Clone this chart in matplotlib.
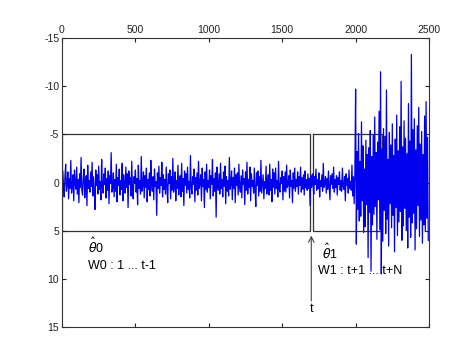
import numpy as np
import matplotlib
matplotlib.use("Agg")
import matplotlib.pyplot as plt

plt.rcParams['font.family'] = ['Liberation Sans', 'DejaVu Sans']
plt.rcParams['axes.unicode_minus'] = False

# sample spacing of the hand-read signal
step = 5

seg_quiet = [
    0.8,-1.2,0.3,1.5,-0.6,-1.9,0.9,0.2,-1.1,1.7,-0.4,0.6,-2.3,1.1,0.4,-0.8,1.9,-1.3,0.1,0.7,
    -1.6,1.2,-0.3,2.1,-0.9,0.5,-2.6,0.8,1.3,-0.5,-1.4,1.6,0.2,-0.7,2.4,-1.8,0.6,-0.2,1.0,-1.1,
    0.4,-2.1,1.4,-0.6,0.9,2.8,-1.3,0.3,-0.8,1.2,-1.7,0.7,-0.1,1.8,-2.4,0.5,1.1,-0.9,0.2,-1.5,
    1.6,-0.4,0.8,-1.2,2.2,-0.7,0.1,-3.1,1.0,0.6,-1.0,1.5,-0.3,0.9,-1.9,2.0,-0.5,0.3,-1.4,1.3,
    -0.2,0.7,-2.0,1.9,-0.8,0.4,1.1,-1.6,0.5,-0.9,2.6,-1.2,0.2,-0.5,1.4,-2.2,0.8,1.7,-0.6,0.1,
    -1.3,1.0,-0.4,2.3,-1.8,0.6,-0.2,1.2,-2.7,0.9,0.3,-1.1,1.6,-0.7,0.5,-1.5,2.0,-0.3,0.7,-1.0,
    1.4,-2.3,0.2,0.9,-0.6,1.8,-1.4,0.4,-0.1,3.4,-1.0,0.6,-1.7,1.1,-0.5,0.3,-2.1,1.5,-0.8,0.7,
    -0.3,1.2,-1.6,0.5,2.1,-0.9,0.1,-1.3,1.7,-0.6,0.8,-2.5,1.0,0.4,-1.1,1.9,-0.2,0.6,-1.8,1.3,
    0.2,-0.7,1.5,-2.0,0.9,-0.4,2.4,-1.2,0.3,-0.9,1.1,-1.6,0.7,-0.1,1.6,-2.8,0.5,1.2,-0.6,0.2,
    -1.4,2.0,-0.5,0.8,-1.0,1.3,-2.2,0.6,0.1,-0.8,1.9,-1.5,0.4,-0.3,2.6,-1.1,0.7,-1.9,1.0,-0.2,
    0.5,-1.3,1.7,-0.7,0.2,-2.4,1.4,-0.4,0.9,-1.0,3.6,-1.6,0.3,0.8,-0.9,1.2,-2.0,0.6,-0.3,1.5,
    -1.1,0.4,-1.7,2.2,-0.6,0.9,-0.2,1.4,-2.6,0.7,0.2,-1.2,1.8,-0.5,0.6,-1.5,2.1,-0.8,0.3,-1.0,
    1.3,-1.9,0.5,1.0,-0.7,1.6,-1.3,0.2,-0.4,2.3,-1.1,0.8,-2.1,1.2,-0.3,0.5,-1.6,1.9,-0.9,0.4,
    -0.2,1.1,-1.5,0.7,2.5,-1.0,0.3,-1.2,1.4,-0.6,0.9,-2.3,1.1,0.2,-0.8,1.7,-0.1,0.6,-1.7,1.2,
    0.3,-0.8,1.3,-1.9,0.8,-0.3,2.0,-1.4,0.5,-1.0,1.2,-1.5,0.6,-0.2,1.5,-2.2,0.7,1.0,-0.5,0.1,
    -1.2,1.8,-0.6,0.9,-1.1,1.0,-1.8,0.5,0.2,-0.7,1.6,-1.3,0.4,-0.2,2.1,-1.0,0.6,-1.5,0.9,-0.3,
    0.4,-1.1,1.2,-0.6,0.3,-1.6,1.0,-0.5,0.7,-0.8,1.3,-1.2,0.5,-0.3,0.8,-0.9,0.6,-0.4,2.4,-0.7,
]
seg_calm = [
    0.5,-0.9,0.3,1.2,-0.6,0.2,-1.4,0.8,-0.3,0.6,-1.0,1.5,-0.2,0.4,-0.8,0.9,-2.0,0.5,0.1,-0.6,
    1.1,-0.4,0.7,-1.2,0.3,1.8,-0.7,0.2,-0.9,0.6,-1.6,1.0,-0.3,0.5,-0.7,1.3,-0.5,0.2,-1.1,0.8,
    -0.2,0.9,-1.5,0.4,0.7,-0.6,1.9,-0.9,0.3,-0.4,1.1,-1.3,0.6,-0.1,0.8,-1.8,1.4,-0.6,2.2,-1.0,
]
seg_burst = [
    -9.7,6.4,-3.2,2.8,-5.1,4.0,-2.2,3.5,-6.3,1.9,-3.8,5.2,-1.4,4.6,-4.4,2.3,-2.9,7.8,-3.6,3.1,
    -5.4,9.2,-2.7,4.4,-4.9,3.3,-6.8,2.5,-3.1,5.9,-4.2,1.8,-7.4,4.9,-11.5,9.5,-3.5,6.1,-5.6,2.9,
    -4.8,5.3,-9.6,3.8,-2.4,6.6,-5.2,2.2,-3.9,4.7,-6.1,3.4,-2.8,7.2,-4.5,2.6,-7.0,5.5,-3.3,4.1,
    -5.8,3.0,-10.5,6.0,-3.7,4.5,-6.4,2.7,-4.6,5.0,-3.0,6.8,-8.2,3.6,-4.3,5.7,-13.3,4.2,-5.5,3.2,
    -6.6,7.0,-3.4,4.8,-5.9,2.4,-7.8,5.6,-4.0,3.9,-5.3,6.3,-2.9,4.4,-6.9,5.1,-8.4,3.7,-4.7,6.0,
]

signal = np.array(seg_quiet + seg_calm + seg_burst)
samples = np.arange(len(signal)) * step

# windows and change point
win0 = (0, 1690)
win1 = (1710, 2180)
box_lo, box_hi = -5, 5
t_change = 1698

xticks = [0, 500, 1000, 1500, 2000, 2500]
yticks = [-15, -10, -5, 0, 5, 10, 15]

fig = plt.figure(figsize=(4.74, 3.55), dpi=100)
ax = fig.add_axes([0.1308, 0.0789, 0.7743, 0.814])

for (a, b) in (win0, win1):
    ax.plot([a, b, b, a, a], [box_lo, box_lo, box_hi, box_hi, box_lo],
            color='#333333', lw=0.9, zorder=1)

ax.plot(samples, signal, color='#0000ee', lw=0.9, zorder=2)

ax.annotate('', xy=(t_change, 5.5), xytext=(t_change, 12.3),
            arrowprops=dict(arrowstyle='->', color='#444444', lw=0.8,
                            shrinkA=0, shrinkB=0), zorder=3)
ax.text(t_change, 12.5, 't', ha='center', va='top', fontsize=9)

ax.text(177, 6.6, r'$\hat{\theta}$0', ha='left', va='center', fontsize=9)
ax.text(177, 8.7, 'W0 : 1 ... t-1', ha='left', va='center', fontsize=9)
ax.text(1771, 7.3, r'$\hat{\theta}$1', ha='left', va='center', fontsize=9)
ax.text(1744, 9.2, 'W1 : t+1 ... t+N', ha='left', va='center', fontsize=9)

ax.set_xlim(0, 2500)
ax.set_ylim(15, -15)
ax.set_xticks(xticks)
ax.set_yticks(yticks)
ax.xaxis.tick_top()
ax.tick_params(axis='both', direction='in', length=3, labelsize=7.5,
               top=True, bottom=True, left=True, right=True,
               labeltop=True, labelbottom=False, colors='#222222', pad=2)
for s in ax.spines.values():
    s.set_color('#333333')
    s.set_linewidth(0.8)

fig.savefig('out.png', dpi=100, facecolor='white')
